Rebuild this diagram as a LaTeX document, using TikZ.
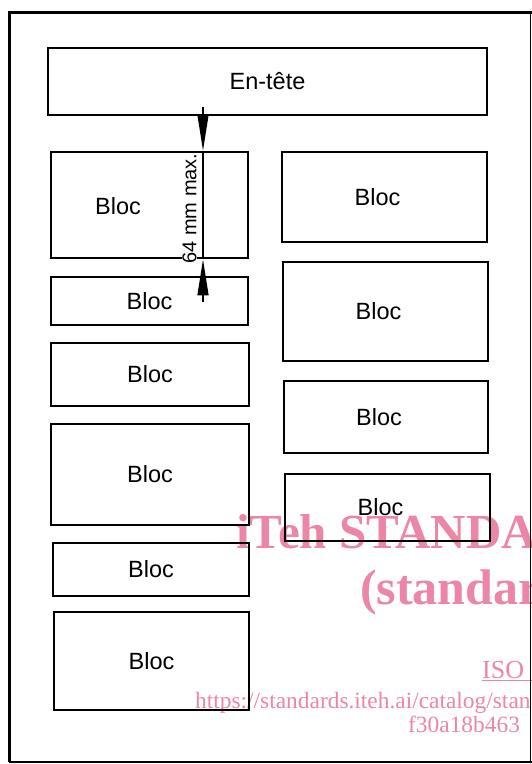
\documentclass[tikz,border=0pt]{standalone}
\usepackage{fontspec}
\setmainfont{Liberation Sans}
\newfontfamily\wmserif{Liberation Serif}
\usetikzlibrary{arrows.meta}
\definecolor{wmpink}{RGB}{236,134,166}

\begin{document}
\begin{tikzpicture}[x=1pt, y=-1pt,
    bloc/.style={draw, line width=2.8pt, inner sep=0pt, font=\fontsize{23.5}{23.5}\selectfont},
    bloc text/.style={inner sep=0pt, font=\fontsize{23.5}{23.5}\selectfont},
    right bloc/.style={bloc, label={[bloc text, xshift=-7pt]center:Bloc}},
    dim line/.style={line width=1.4pt},
    dim arrow/.style={dim line, -{Triangle[length=36pt, width=11pt]}},
    frame/.style={line width=3pt},
    watermark/.style={text=wmpink, anchor=base west, inner sep=0pt}]

  \useasboundingbox (0,0) rectangle (532,764);

  % ===== Watermark (behind the drawing) =====
  \node[watermark, font=\wmserif\bfseries\fontsize{49}{49}\selectfont]
    (wm1) at (236,548) {iTeh STANDA};
  \node[watermark, font=\wmserif\bfseries\fontsize{50}{50}\selectfont]
    (wm2) at (360,604) {(standar};
  \node[watermark, font=\wmserif\fontsize{26}{26}\selectfont]
    (wm3) at (482,678) {\underline{ISO :}};
  \node[watermark, font=\wmserif\fontsize{23.4}{23.4}\selectfont]
    (wm4) at (195,708) {https://standards.iteh.ai/catalog/stan};
  \node[watermark, font=\wmserif\fontsize{23.4}{23.4}\selectfont]
    (wm5) at (408,732) {f30a18b463};

  % ===== Page frame =====
  \draw[frame] (9,762) -- (9,12) -- (532,12);
  \draw[line width=2pt] (9,762) -- (532,762);
  \draw[line width=0.5pt] (530.5,12) -- (530.5,762);

  % ===== Header =====
  \node[bloc, minimum width=439pt, minimum height=67pt] (entete) at (267.5,81.5) {En-tête};

  % ===== Left column =====
  \node[bloc, minimum width=197pt, minimum height=106pt] (l1) at (149.5,205) {};
  \node[bloc text] (l1text) at (118,206) {Bloc};
  \node[bloc, minimum width=197pt, minimum height=48pt] (l2) at (149.5,301) {Bloc};
  \node[bloc, minimum width=198pt, minimum height=63pt] (l3) at (150,374.5) {Bloc};
  \node[bloc, minimum width=198pt, minimum height=101pt] (l4) at (150,474.5) {Bloc};
  \node[bloc, minimum width=196pt, minimum height=53pt] (l5) at (151,569.5) {Bloc};
  \node[bloc, minimum width=195pt, minimum height=98pt] (l6) at (151.5,661) {Bloc};

  % ===== Right column (labels sit a little left of centre) =====
  \node[right bloc, minimum width=205pt, minimum height=90pt] (r1) at (384.5,197) {};
  \node[right bloc, minimum width=205pt, minimum height=99pt] (r2) at (385.5,311.5) {};
  \node[right bloc, minimum width=204pt, minimum height=72pt] (r3) at (386,417) {};
  \node[right bloc, minimum width=205pt, minimum height=67pt] (r4) at (387.5,507.5) {};

  % ===== Height dimension of the first block =====
  \coordinate (dimtop) at (203,107);
  \coordinate (dimbot) at (203,302);
  \draw[dim arrow] (dimtop) -- (dimtop |- l1.north);
  \draw[dim line] (dimtop |- l1.north) -- (dimtop |- l1.south);
  \draw[dim arrow] (dimbot) -- (dimbot |- l1.south);
  \node[rotate=90, fill=white, inner sep=0.5pt, font=\fontsize{20}{20}\selectfont]
    (dimlabel) at (189.5,208.5) {64 mm max.};

\end{tikzpicture}
\end{document}
